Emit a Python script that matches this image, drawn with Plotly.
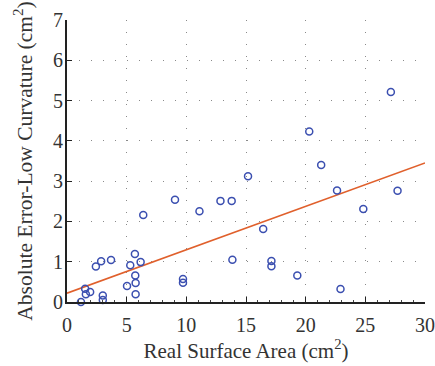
import plotly.graph_objects as go

# Scatter data: real surface area (cm^2) vs absolute error - low curvature (cm^2)
area = [1.17, 1.52, 1.58, 1.94, 2.42, 2.86, 3.0, 3.0, 3.69, 5.03, 5.3, 5.69, 5.72, 5.75, 5.75,
        6.17, 6.39, 9.05, 9.72, 9.72, 11.1, 12.86, 13.8, 13.86, 15.17, 16.44, 17.13, 17.13,
        19.3, 20.3, 21.3, 22.63, 22.92, 24.83, 27.14, 27.7]
error = [0.0, 0.33, 0.19, 0.25, 0.88, 1.01, 0.16, 0.05, 1.04, 0.40, 0.91, 1.19, 0.66, 0.47, 0.19,
         0.99, 2.16, 2.54, 0.57, 0.48, 2.25, 2.51, 2.51, 1.05, 3.12, 1.81, 1.02, 0.89,
         0.66, 4.23, 3.40, 2.77, 0.32, 2.31, 5.21, 2.76]

# Fitted line endpoints
fit_x = [0, 30]
fit_y = [0.22, 3.45]

x_ticks = [0, 5, 10, 15, 20, 25, 30]
y_ticks = [0, 1, 2, 3, 4, 5, 6, 7]

fig = go.Figure()
fig.add_trace(go.Scatter(x=fit_x, y=fit_y, mode="lines",
                         line=dict(color="#e0602c", width=1.6), showlegend=False,
                         cliponaxis=False))
fig.add_trace(go.Scatter(x=area, y=error, mode="markers",
                         marker=dict(symbol="circle-open", size=7, color="#3b4fb0",
                                     line=dict(width=1.5, color="#3b4fb0")),
                         showlegend=False, cliponaxis=False))

font_family = "Liberation Serif, DejaVu Serif, serif"
common = dict(showgrid=True, gridcolor="#8a8a8a", gridwidth=1, griddash="1px,11px",
              zeroline=False, showline=True, linecolor="#222222", linewidth=1.8,
              ticks="inside", tickcolor="#222222", tickwidth=1.3, mirror=False,
              automargin=False, ticklabeloverflow="allow",
              tickfont=dict(family=font_family, size=20, color="#333333"))

fig.update_layout(
    width=435, height=366,
    margin=dict(l=67, r=10, t=20, b=64),
    paper_bgcolor="white", plot_bgcolor="white",
    font=dict(family=font_family, color="#333333"),
    xaxis=dict(range=[0, 30], tickvals=x_ticks, ticklen=5, ticklabelstandoff=4,
               title=dict(text="Real Surface Area (cm<sup>2</sup>)",
                          font=dict(family=font_family, size=21, color="#333333"), standoff=8),
               minor=dict(dtick=1, tick0=0, ticks="inside", ticklen=2.5, tickcolor="#444444",
                          tickwidth=1, showgrid=False),
               **common),
    yaxis=dict(range=[0, 7], tickvals=y_ticks, ticklen=5, ticklabelstandoff=-2,
               title=dict(text="Absolute Error-Low Curvature (cm<sup>2</sup>)",
                          font=dict(family=font_family, size=21.5, color="#333333"), standoff=15),
               **common),
)

fig.write_html("out.html", config={"displayModeBar": False},
               post_script="document.body.style.margin='0';")
